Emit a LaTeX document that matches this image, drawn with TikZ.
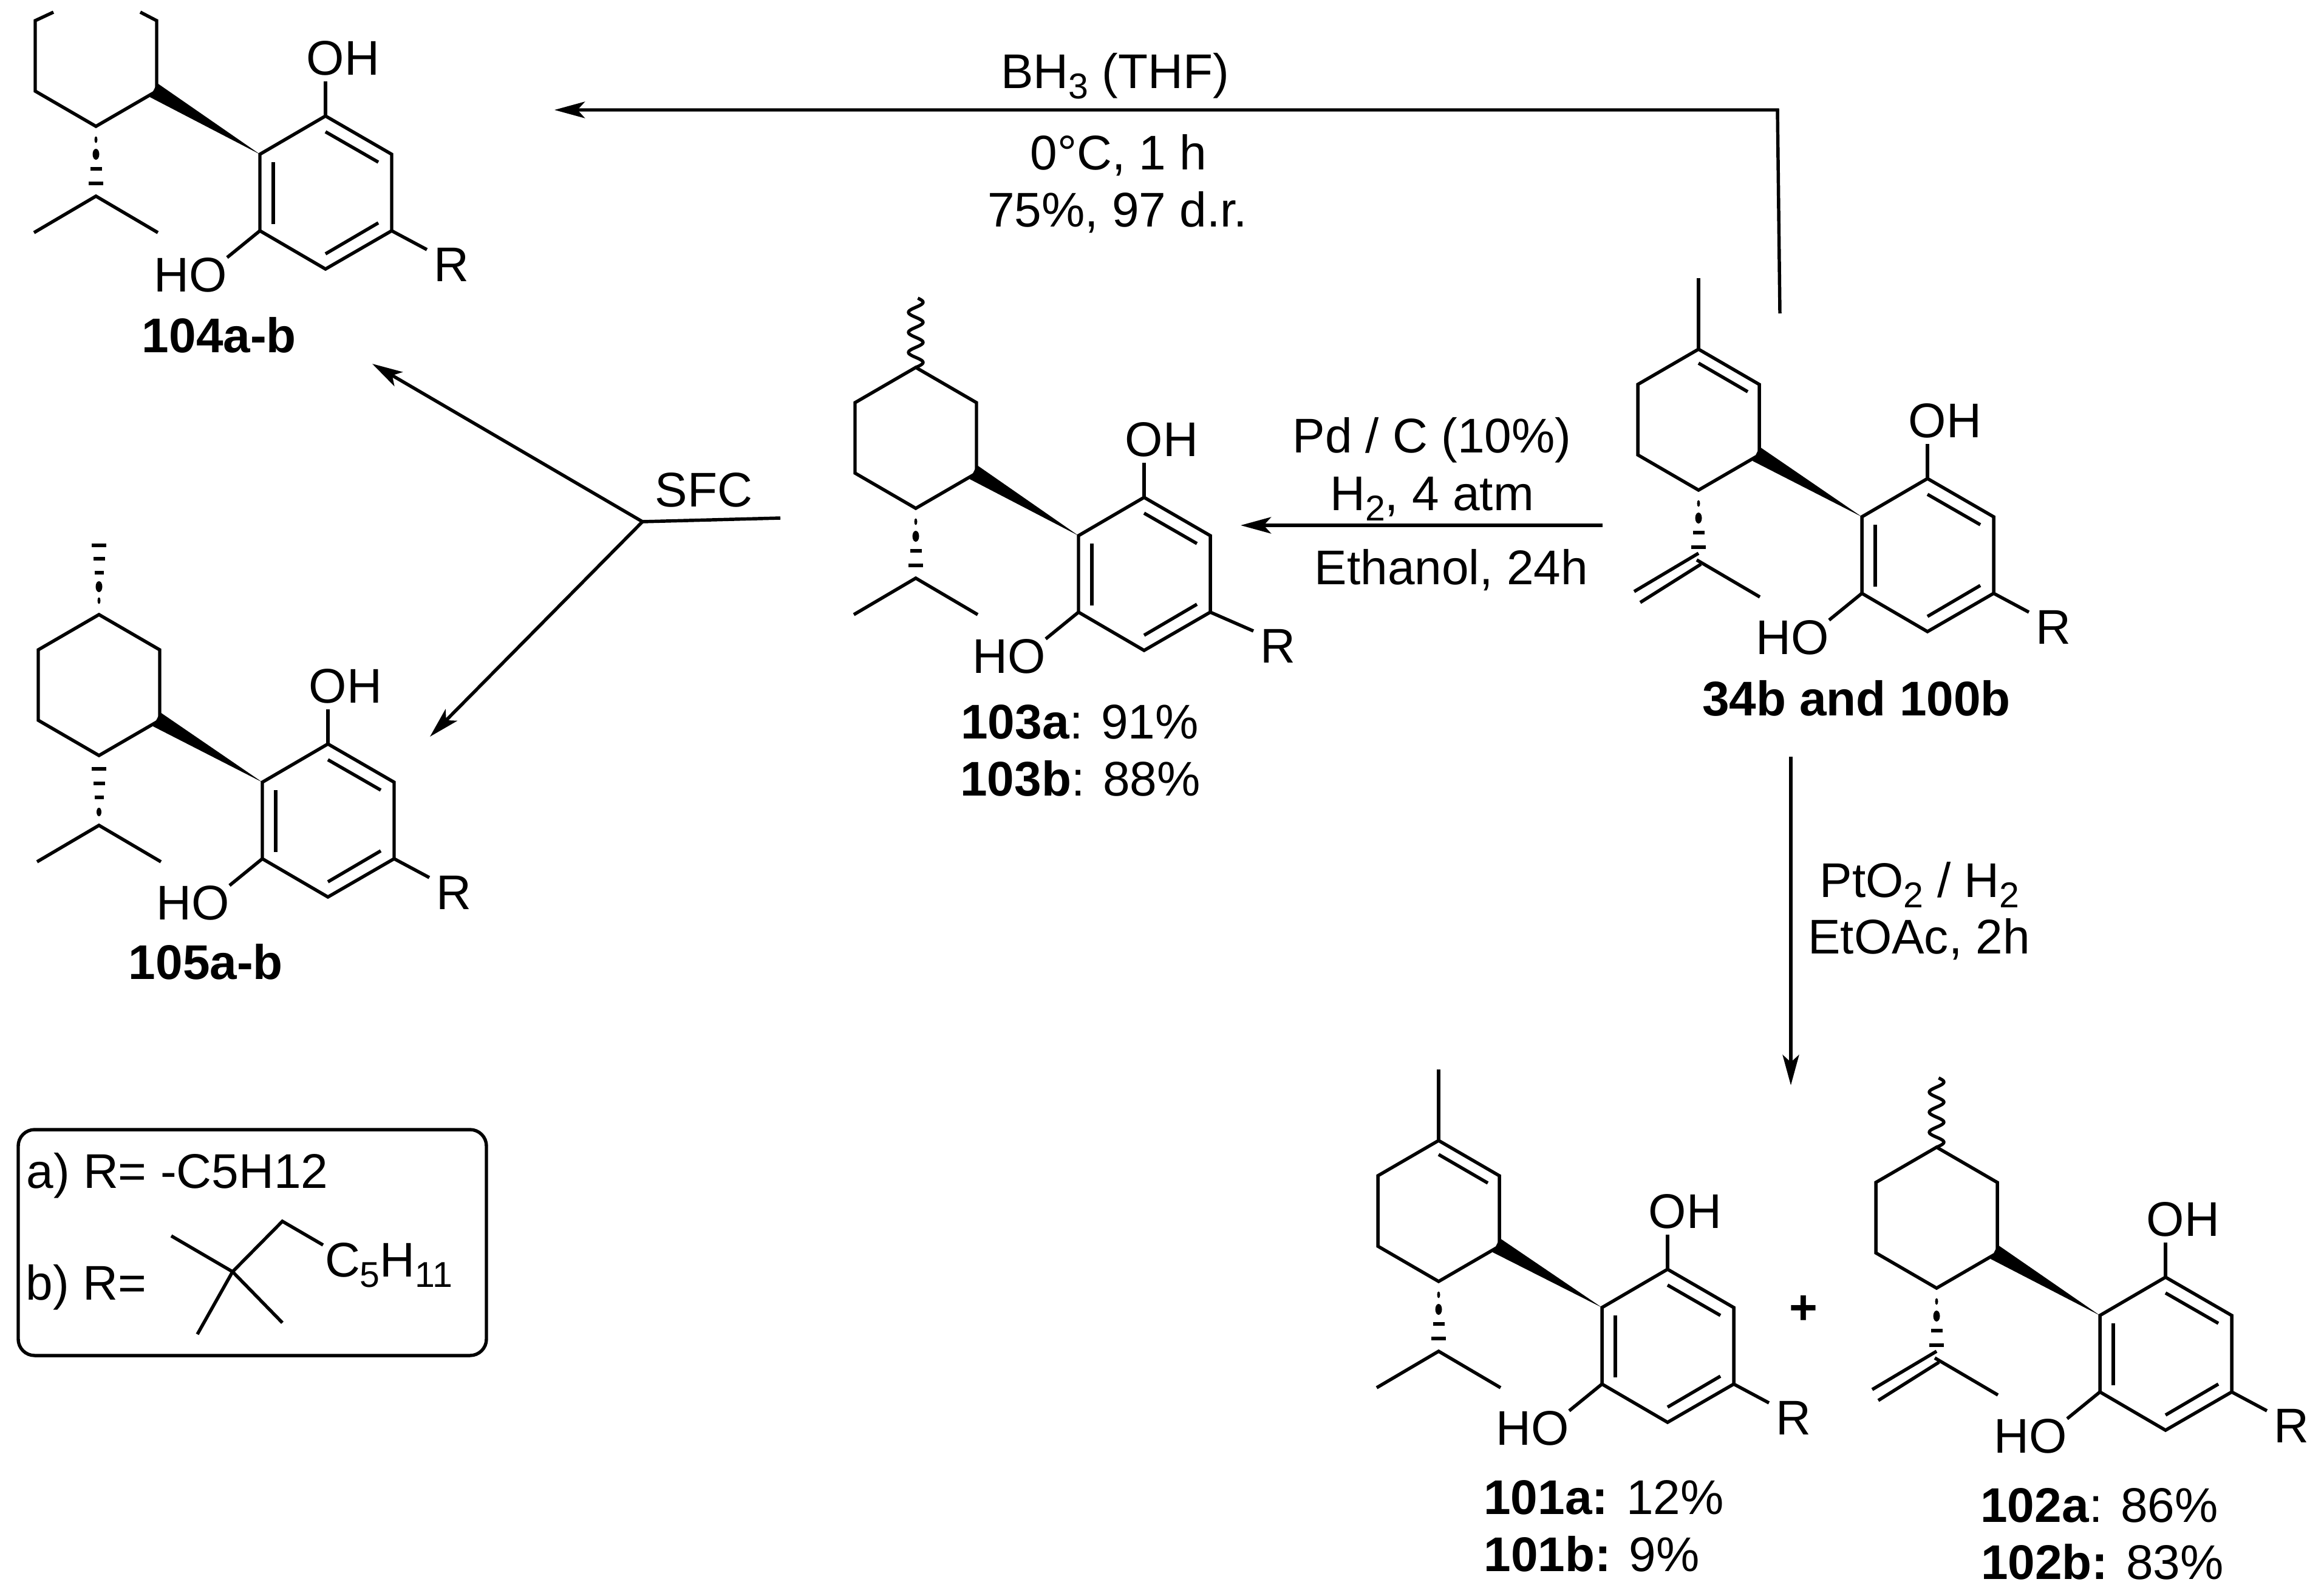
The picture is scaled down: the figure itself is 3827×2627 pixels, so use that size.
\documentclass[tikz,border=0pt]{standalone}
\usepackage{fontspec}
\setmainfont{Liberation Sans}
\usetikzlibrary{arrows.meta}
\newcommand\lowsub[1]{\raisebox{-1.7mm}{\fontsize{16.8pt}{18pt}\selectfont #1}}
\tikzset{
  bond/.style={line width=1.55pt,line join=miter,line cap=butt},
  rx/.style={line width=1.55pt,line join=miter,-{Stealth[length=5mm,width=2.7mm,inset=1.2mm]}},
  plain/.style={line width=1.55pt,line join=miter},
  lbl/.style={inner sep=0pt,anchor=base,yshift=-2.85mm,font=\fontsize{22.8pt}{26pt}\selectfont},
}
% resorcinol ring; origin = ring carbon that carries the wedge; #4 = extra reach of the R bond
\newcommand\resorc[4]{%
 \begin{scope}[shift={(#1,#2)}]
  \coordinate (#3tip) at (0,0);
  \draw[bond] (0,0) -- (108,-63) -- (217,0) -- (217,126) -- (108,189) -- (0,126) -- cycle;
  \draw[bond] (22,13) -- (22,115);
  \draw[bond] (108,-37) -- (195,13);
  \draw[bond] (195,113) -- (108,164);
  \draw[bond] (108,-63) -- (108,-120);
  \draw[bond] (0,126) -- (-54,170);
  \draw[bond] (217,126) -- ({275+#4},157);
  \node[lbl] (#3oh) at (137,-159) {OH};
  \node[lbl] (#3ho) at (-114,198) {HO};
  \node[lbl] (#3r) at ({315+#4},181) {R};
 \end{scope}}
% saturated ring; origin = bottom ring carbon
\newcommand\wedgeto[1]{\fill (101,-71) -- (#1tip) -- (89,-48) -- cycle;}
\newcommand\hsh[3]{\fill ({-#2/2},{#1-#3/2}) rectangle ({#2/2},{#1+#3/2});}
\newcommand\ovl[3]{\fill (0,#1) ellipse [x radius=#2/2,y radius=#3/2];}
\newcommand\hashdown{\ovl{22}{5}{11}\ovl{46}{11}{18}\hsh{70}{19}{6}\hsh{94}{24}{6}}
\newcommand\satring{\draw[bond] (-100,-58) -- (-100,-174) -- (0,-232) -- (100,-174) -- (100,-58) -- (0,0) -- cycle;}
\newcommand\enering{\draw[bond] (-100,-58) -- (-100,-174) -- (0,-232) -- (100,-174) -- (100,-58) -- (0,0) -- cycle;
  \draw[bond] (0,-209) -- (81,-162);
  \draw[bond] (0,-232) -- (0,-349);}
\newcommand\iprop{\draw[bond] (-102,175) -- (0,115) -- (102,175);}
\newcommand\ipren{\draw[bond] (0,104) -- (-106,167);
  \draw[bond] (4,122) -- (-96,185);
  \draw[bond] (-3,115) -- (101,176);}
\newcommand\wavy{\draw[line width=1.5pt] plot[domain=0:114,samples=90] ({12*sin(\x*10.909)},{-\x});}
\begin{document}
\begin{tikzpicture}[x=0.01cm,y=-0.01cm]
\useasboundingbox (0,0) rectangle (3827,2627);
\fill[white] (0,0) rectangle (3827,2627);

% ---- 104
\resorc{428}{254}{m}{0}
\begin{scope}[shift={(158,208)}]
  \draw[bond] (-70,-188) -- (-100,-174) -- (-100,-58) -- (0,0) -- (100,-58) -- (100,-174) -- (73,-188);
  \wedgeto{m}\hashdown\iprop
\end{scope}
\node[lbl,font=\fontsize{22.8pt}{26pt}\selectfont\bfseries] (l104) at (361,552) {104a-b};

% ---- 105
\resorc{432}{1288}{n}{0}
\begin{scope}[shift={(163,1244)}]
  \satring\wedgeto{n}
  \hsh{22}{24}{6}\hsh{46}{19}{6}\hsh{69}{15}{6}\ovl{93}{8}{14}
  \iprop
  \ovl{-255}{5}{11}\ovl{-278}{11}{18}\hsh{-301}{15}{6}\hsh{-324}{19}{6}\hsh{-346}{24}{6}
\end{scope}
\node[lbl,font=\fontsize{22.8pt}{26pt}\selectfont\bfseries] (l105) at (339,1584) {105a-b};

% ---- 103
\resorc{1776}{882}{o}{13}
\begin{scope}[shift={(1508,837)}]
  \satring\wedgeto{o}\hashdown\iprop
  \begin{scope}[shift={(0,-232)}]\wavy\end{scope}
\end{scope}
\node[lbl] (l103a) at (1778,1188) {\textbf{103a}: 91\%};
\node[lbl] (l103b) at (1779,1282) {\textbf{103b}: 88\%};

% ---- 34b
\resorc{3066}{851}{p}{0}
\begin{scope}[shift={(2797,807)}]
  \enering\wedgeto{p}\hashdown\ipren
\end{scope}
\node[lbl,font=\fontsize{22.8pt}{26pt}\selectfont\bfseries] (l34) at (3057,1150) {34b and 100b};

% ---- 101
\resorc{2638}{2153}{q}{0}
\begin{scope}[shift={(2369,2110)}]
  \enering\wedgeto{q}\hashdown\iprop
\end{scope}
\node[lbl] (l101a) at (2641,2465) {\textbf{101a:} 12\%};
\node[lbl] (l101b) at (2621,2559) {\textbf{101b:} 9\%};

% ---- 102
\resorc{3458}{2166}{s}{0}
\begin{scope}[shift={(3189,2121)}]
  \satring\wedgeto{s}\hashdown\ipren
  \begin{scope}[shift={(0,-232)}]\wavy\end{scope}
\end{scope}
\node[lbl] (l102a) at (3457,2478) {\textbf{102a}: 86\%};
\node[lbl] (l102b) at (3462,2572) {\textbf{102b:} 83\%};

\node[lbl,font=\fontsize{22.8pt}{26pt}\selectfont\bfseries] (plus) at (2970,2152) {+};

% ---- reaction arrows
\coordinate (bhA) at (2931,516);
\coordinate (bhB) at (2927,181);
\coordinate (bhC) at (913,181);
\draw[rx] (bhA) -- (bhB) -- (bhC);
\coordinate (pdA) at (2639,865);
\coordinate (pdB) at (2043,865);
\draw[rx] (pdA) -- (pdB);
\coordinate (ptA) at (2949,1246);
\coordinate (ptB) at (2949,1787);
\draw[rx] (ptA) -- (ptB);
\coordinate (sfcR) at (1285,853);
\coordinate (sfcM) at (1058,859);
\coordinate (sfcU) at (613,599);
\coordinate (sfcD) at (708,1213);
\draw[plain] (sfcR) -- (sfcM);
\draw[rx] (sfcM) -- (sfcU);
\draw[rx] (sfcM) -- (sfcD);

% ---- reagents
\node[lbl] (t1) at (1836,117) {BH\lowsub{3} (THF)};
\node[lbl] (t2) at (1842,251) {0°C, 1 h};
\node[lbl] (t3) at (1840,345) {75\%, 97 d.r.};
\node[lbl] (t4) at (2358,717) {Pd / C (10\%)};
\node[lbl] (t5) at (2358,812) {H\lowsub{2}, 4 atm};
\node[lbl] (t6) at (2390,934) {Ethanol, 24h};
\node[lbl] (t7) at (1159,806) {SFC};
\node[lbl] (t8) at (3161,1449) {PtO\lowsub{2} / H\lowsub{2}};
\node[lbl] (t9) at (3160,1542) {EtOAc, 2h};

% ---- key box
\draw[plain,rounded corners=0.27cm] (30,1860) rectangle (801,2232);
\node[lbl] (ka) at (292,1928) {a) R= -C5H12};
\node[lbl] (kb) at (142,2112) {b) R=};
\coordinate (tb) at (383,2094);
\coordinate (tbUL) at (282,2035);
\coordinate (tbLL) at (325,2197);
\coordinate (tbLR) at (465,2178);
\coordinate (tbU) at (465,2011);
\coordinate (tbE) at (532,2050);
\draw[bond] (tbUL) -- (tb) -- (tbLR);
\draw[bond] (tbLL) -- (tb) -- (tbU) -- (tbE);
\node[lbl] (kc) at (640,2074) {C\lowsub{5}H\lowsub{11}};
\end{tikzpicture}
\end{document}
